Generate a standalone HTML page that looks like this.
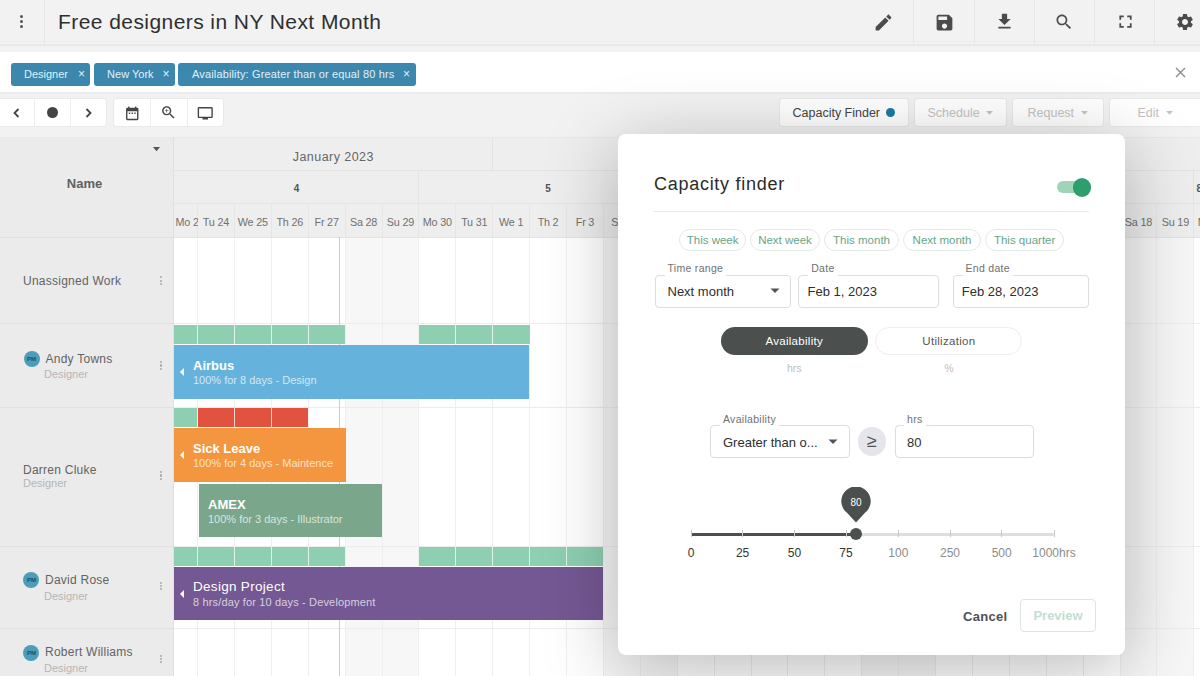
<!DOCTYPE html>
<html><head><meta charset="utf-8">
<style>
*{box-sizing:border-box;margin:0;padding:0}
html,body{width:1200px;height:676px;overflow:hidden;background:#f1f1f1;font-family:"Liberation Sans",sans-serif;position:relative}
.a{position:absolute;white-space:nowrap}
.ico{position:absolute;fill:#4b4b4b}
.vd{position:absolute;top:0;width:1px;height:45px;background:#e6e6e6}
.chip{position:absolute;top:62.6px;height:23.6px;background:#3b87ae;border-radius:3px;color:#e3f0f6;font-size:11px;line-height:23.6px;white-space:nowrap}
.chip span{position:absolute;top:0}
.chip i{position:absolute;top:0;font-style:normal;font-size:12px}
.btn{position:absolute;top:99px;height:27px;background:#fff;border-radius:3px;box-shadow:0 0 0 1px #e9e9e9;font-size:12px;line-height:28px;white-space:nowrap}
.cell{position:absolute}
.t{position:absolute;white-space:nowrap;line-height:1}
</style></head><body>
<div class="a" style="left:0;top:0;width:1200px;height:52px;background:#f2f2f2"></div>
<div class="a" style="left:0;top:40.5px;width:1200px;height:1px;background:#ededed"></div>
<div class="a" style="left:0;top:44px;width:1200px;height:1.6px;background:#e9e9e9"></div>
<div class="vd" style="left:44px"></div>
<div class="a" style="left:19.5px;top:15.100000000000001px;width:3.4px;height:3.4px;border-radius:50%;background:#555"></div>
<div class="a" style="left:19.5px;top:20.1px;width:3.4px;height:3.4px;border-radius:50%;background:#555"></div>
<div class="a" style="left:19.5px;top:25.1px;width:3.4px;height:3.4px;border-radius:50%;background:#555"></div>
<div class="a" style="left:58px;top:9px;font-size:21px;line-height:26px;letter-spacing:0.43px;color:#2f2f2f">Free designers in NY Next Month</div>
<div class="vd" style="left:913px"></div>
<div class="vd" style="left:974px"></div>
<div class="vd" style="left:1034px"></div>
<div class="vd" style="left:1094px"></div>
<div class="vd" style="left:1154px"></div>
<svg class="ico" style="left:872.5px;top:11.5px;fill:#4b4b4b" width="21" height="21" viewBox="0 0 24 24"><path d="M3 17.25V21h3.75L17.81 9.94l-3.75-3.75L3 17.25zM20.71 7.04c.39-.39.39-1.02 0-1.41l-2.34-2.34c-.39-.39-1.02-.39-1.41 0l-1.83 1.83 3.75 3.75 1.83-1.83z"/></svg>
<svg class="ico" style="left:933.5px;top:11.5px;fill:#4b4b4b" width="21" height="21" viewBox="0 0 24 24"><path d="M17 3H5c-1.11 0-2 .9-2 2v14c0 1.1.89 2 2 2h14c1.1 0 2-.9 2-2V7l-4-4zm-5 16c-1.66 0-3-1.34-3-3s1.34-3 3-3 3 1.34 3 3-1.34 3-3 3zm3-10H5V5h10v4z"/></svg>
<svg class="ico" style="left:993.5px;top:11.0px;fill:#4b4b4b" width="21" height="21" viewBox="0 0 24 24"><path d="M19 9h-4V3H9v6H5l7 7 7-7zM5 18v2h14v-2H5z"/></svg>
<svg class="ico" style="left:1053.5px;top:12.0px;fill:#4b4b4b" width="20" height="20" viewBox="0 0 24 24"><path d="M15.5 14h-.79l-.28-.27C15.41 12.59 16 11.11 16 9.5 16 5.91 13.09 3 9.5 3S3 5.91 3 9.5 5.91 16 9.5 16c1.61 0 3.090-.59 4.23-1.57l.27.28v.79l5 4.99L20.49 19l-4.99-5zm-6 0C7.01 14 5 11.99 5 9.5S7.01 5 9.5 5 14 7.01 14 9.5 11.99 14 9.5 14z"/></svg>
<svg class="ico" style="left:1114.5px;top:11.0px;fill:#4b4b4b" width="21" height="21" viewBox="0 0 24 24"><path d="M7 14H5v5h5v-2H7v-3zm-2-4h2V7h3V5H5v5zm12 7h-3v2h5v-5h-2v3zM14 5v2h3v3h2V5h-5z"/></svg>
<svg class="ico" style="left:1174.7px;top:12.0px;fill:#4b4b4b" width="20" height="20" viewBox="0 0 24 24"><path d="M19.14 12.94c.04-.3.06-.61.06-.94 0-.32-.02-.64-.07-.94l2.03-1.58c.18-.14.23-.41.12-.61l-1.92-3.32c-.12-.22-.37-.29-.59-.22l-2.39.96c-.5-.38-1.03-.7-1.62-.94l-.36-2.54c-.04-.24-.24-.41-.48-.41h-3.84c-.24 0-.43.17-.47.41l-.36 2.54c-.59.24-1.13.57-1.62.94l-2.39-.96c-.22-.08-.47 0-.59.22L2.74 8.87c-.12.21-.08.47.12.61l2.03 1.58c-.05.3-.09.63-.09.94s.02.64.07.94l-2.03 1.58c-.18.14-.23.41-.12.61l1.92 3.32c.12.22.37.29.59.22l2.39-.96c.5.38 1.03.7 1.62.94l.36 2.54c.05.24.24.41.48.41h3.84c.24 0 .44-.17.47-.41l.36-2.54c.59-.24 1.13-.56 1.62-.94l2.39.96c.22.08.47 0 .59-.22l1.92-3.32c.12-.22.07-.47-.12-.61l-2.01-1.58zM12 15.6c-1.98 0-3.6-1.62-3.6-3.6s1.62-3.6 3.6-3.6 3.6 1.62 3.6 3.6-1.62 3.6-3.6 3.6z"/></svg>
<div class="a" style="left:0;top:52px;width:1200px;height:39.5px;background:#fff"></div>
<div class="chip" style="left:11px;width:79.3px"><span style="left:13px">Designer</span><i style="left:67px">&#215;</i></div>
<div class="chip" style="left:93.6px;width:81.6px"><span style="left:13.5px">New York</span><i style="left:69px">&#215;</i></div>
<div class="chip" style="left:178px;width:238px"><span style="left:14px;letter-spacing:0.15px">Availability: Greater than or equal 80 hrs</span><i style="left:225px">&#215;</i></div>
<svg class="a" style="left:1175px;top:67px" width="11" height="11" viewBox="0 0 11 11"><path d="M1 1L10 10M10 1L1 10" stroke="#8a8a8a" stroke-width="1.4"/></svg>
<div class="a" style="left:0;top:91.5px;width:1200px;height:45.5px;background:#f2f2f2"></div>
<div class="a" style="left:0;top:92px;width:1200px;height:1.5px;background:#ebebeb"></div>
<div class="btn" style="left:-3px;width:108.5px"></div>
<div class="a" style="left:34px;top:99px;width:1px;height:27px;background:#ededed"></div>
<div class="a" style="left:70px;top:99px;width:1px;height:27px;background:#ededed"></div>
<svg class="a" style="left:12px;top:108px" width="9" height="10" viewBox="0 0 9 10"><path d="M6.5 1L2.5 5L6.5 9" fill="none" stroke="#444" stroke-width="1.8"/></svg>
<div class="a" style="left:47.2px;top:107.4px;width:10.8px;height:10.8px;border-radius:50%;background:#444"></div>
<svg class="a" style="left:84px;top:108px" width="9" height="10" viewBox="0 0 9 10"><path d="M2.5 1L6.5 5L2.5 9" fill="none" stroke="#444" stroke-width="1.8"/></svg>
<div class="btn" style="left:114px;width:109px"></div>
<div class="a" style="left:150px;top:99px;width:1px;height:27px;background:#ededed"></div>
<div class="a" style="left:187px;top:99px;width:1px;height:27px;background:#ededed"></div>
<svg class="ico" style="left:123.75px;top:104.55px;fill:#444" width="16.5" height="16.5" viewBox="0 0 24 24"><path d="M9 11H7v2h2v-2zm4 0h-2v2h2v-2zm4 0h-2v2h2v-2zm2-7h-1V2h-2v2H8V2H6v2H5c-1.11 0-1.99.9-1.99 2L3 20c0 1.1.89 2 2 2h14c1.1 0 2-.9 2-2V6c0-1.1-.9-2-2-2zm0 16H5V9h14v11z"/></svg>
<svg class="ico" style="left:160.0px;top:104.0px;fill:#444" width="17" height="17" viewBox="0 0 24 24"><path d="M15.5 14h-.79l-.28-.27C15.41 12.59 16 11.11 16 9.5 16 5.91 13.09 3 9.5 3S3 5.91 3 9.5 5.91 16 9.5 16c1.61 0 3.09-.59 4.23-1.57l.27.28v.79l5 4.99L20.49 19l-4.99-5zm-6 0C7.01 14 5 11.99 5 9.5S7.01 5 9.5 5 14 7.01 14 9.5 11.99 14 9.5 14zm2.5-4h-2v2H9v-2H7V9h2V7h1v2h2v1z"/></svg>
<svg class="ico" style="left:197.25px;top:104.75px;fill:#444" width="16.5" height="16.5" viewBox="0 0 24 24"><path d="M21 3H3c-1.1 0-2 .9-2 2v12c0 1.1.9 2 2 2h5v2h8v-2h5c1.1 0 1.99-.9 1.99-2L23 5c0-1.1-.9-2-2-2zm0 14H3V5h18v12z"/></svg>
<div class="btn" style="left:780px;width:128px"><span class="a" style="left:12.5px;color:#454545;font-size:12.5px">Capacity Finder</span><span class="a" style="left:105.5px;top:9px;width:9px;height:9px;border-radius:50%;background:#1b7aa6"></span></div>
<div class="btn" style="left:914.5px;width:91.5px"><span class="a" style="left:13px;color:#c3c3c3;font-size:12.5px">Schedule <svg width="7" height="4" viewBox="0 0 7 4" style="margin-left:3px;position:relative;top:-2px"><path d="M0 0H7L3.5 3.8Z" fill="#c4c4c4"/></svg></span></div>
<div class="btn" style="left:1012.5px;width:90.5px"><span class="a" style="left:15px;color:#c3c3c3;font-size:12.5px">Request <svg width="7" height="4" viewBox="0 0 7 4" style="margin-left:3px;position:relative;top:-2px"><path d="M0 0H7L3.5 3.8Z" fill="#c4c4c4"/></svg></span></div>
<div class="btn" style="left:1109.5px;width:100px"><span class="a" style="left:28px;color:#c3c3c3;font-size:12.5px">Edit <svg width="7" height="4" viewBox="0 0 7 4" style="margin-left:3px;position:relative;top:-2px"><path d="M0 0H7L3.5 3.8Z" fill="#c4c4c4"/></svg></span></div>
<div class="a" style="left:0;top:137px;width:1200px;height:539px;background:#fff"></div>
<div class="a" style="left:345.1px;top:237.5px;width:36.9px;height:438.5px;background:#f7f7f7"></div>
<div class="a" style="left:382.0px;top:237.5px;width:36.9px;height:438.5px;background:#f7f7f7"></div>
<div class="a" style="left:603.4px;top:237.5px;width:36.9px;height:438.5px;background:#f7f7f7"></div>
<div class="a" style="left:640.3px;top:237.5px;width:36.9px;height:438.5px;background:#f7f7f7"></div>
<div class="a" style="left:861.7px;top:237.5px;width:36.9px;height:438.5px;background:#f7f7f7"></div>
<div class="a" style="left:898.6px;top:237.5px;width:36.9px;height:438.5px;background:#f7f7f7"></div>
<div class="a" style="left:1120.0px;top:237.5px;width:36.9px;height:438.5px;background:#f7f7f7"></div>
<div class="a" style="left:1156.9px;top:237.5px;width:36.9px;height:438.5px;background:#f7f7f7"></div>
<div class="a" style="left:197.0px;top:137px;width:1px;height:539px;background:#efefef"></div>
<div class="a" style="left:233.9px;top:137px;width:1px;height:539px;background:#efefef"></div>
<div class="a" style="left:270.8px;top:137px;width:1px;height:539px;background:#efefef"></div>
<div class="a" style="left:307.7px;top:137px;width:1px;height:539px;background:#efefef"></div>
<div class="a" style="left:344.6px;top:137px;width:1px;height:539px;background:#efefef"></div>
<div class="a" style="left:381.5px;top:137px;width:1px;height:539px;background:#efefef"></div>
<div class="a" style="left:418.4px;top:137px;width:1px;height:539px;background:#efefef"></div>
<div class="a" style="left:455.3px;top:137px;width:1px;height:539px;background:#efefef"></div>
<div class="a" style="left:492.2px;top:137px;width:1px;height:539px;background:#efefef"></div>
<div class="a" style="left:529.1px;top:137px;width:1px;height:539px;background:#efefef"></div>
<div class="a" style="left:566.0px;top:137px;width:1px;height:539px;background:#efefef"></div>
<div class="a" style="left:602.9px;top:137px;width:1px;height:539px;background:#efefef"></div>
<div class="a" style="left:639.8px;top:137px;width:1px;height:539px;background:#efefef"></div>
<div class="a" style="left:676.7px;top:137px;width:1px;height:539px;background:#efefef"></div>
<div class="a" style="left:713.6px;top:137px;width:1px;height:539px;background:#efefef"></div>
<div class="a" style="left:750.5px;top:137px;width:1px;height:539px;background:#efefef"></div>
<div class="a" style="left:787.4px;top:137px;width:1px;height:539px;background:#efefef"></div>
<div class="a" style="left:824.3px;top:137px;width:1px;height:539px;background:#efefef"></div>
<div class="a" style="left:861.2px;top:137px;width:1px;height:539px;background:#efefef"></div>
<div class="a" style="left:898.1px;top:137px;width:1px;height:539px;background:#efefef"></div>
<div class="a" style="left:935.0px;top:137px;width:1px;height:539px;background:#efefef"></div>
<div class="a" style="left:971.9px;top:137px;width:1px;height:539px;background:#efefef"></div>
<div class="a" style="left:1008.8px;top:137px;width:1px;height:539px;background:#efefef"></div>
<div class="a" style="left:1045.7px;top:137px;width:1px;height:539px;background:#efefef"></div>
<div class="a" style="left:1082.6px;top:137px;width:1px;height:539px;background:#efefef"></div>
<div class="a" style="left:1119.5px;top:137px;width:1px;height:539px;background:#efefef"></div>
<div class="a" style="left:1156.4px;top:137px;width:1px;height:539px;background:#efefef"></div>
<div class="a" style="left:1193.3px;top:137px;width:1px;height:539px;background:#efefef"></div>
<div class="a" style="left:1230.2px;top:137px;width:1px;height:539px;background:#efefef"></div>
<div class="a" style="left:0;top:322.5px;width:1200px;height:1px;background:#ececec"></div>
<div class="a" style="left:0;top:407px;width:1200px;height:1px;background:#ececec"></div>
<div class="a" style="left:0;top:545.5px;width:1200px;height:1px;background:#ececec"></div>
<div class="a" style="left:0;top:628px;width:1200px;height:1px;background:#ececec"></div>
<div class="a" style="left:174px;top:137px;width:1026px;height:100px;background:#eeeeee"></div>
<div class="a" style="left:0;top:136.5px;width:1200px;height:1px;background:#e7e7e7"></div>
<div class="a" style="left:174px;top:169.5px;width:1026px;height:1px;background:#e3e3e3"></div>
<div class="a" style="left:174px;top:202.5px;width:1026px;height:1px;background:#e3e3e3"></div>
<div class="a" style="left:0px;top:236.5px;width:1200px;height:1px;background:#e3e3e3"></div>
<div class="a" style="left:492.2px;top:137px;width:1px;height:33px;background:#e3e3e3"></div>
<div class="a" style="left:418.4px;top:170px;width:1px;height:33px;background:#e3e3e3"></div>
<div class="a" style="left:676.7px;top:170px;width:1px;height:33px;background:#e3e3e3"></div>
<div class="a" style="left:935.0px;top:170px;width:1px;height:33px;background:#e3e3e3"></div>
<div class="a" style="left:1193.3px;top:170px;width:1px;height:33px;background:#e3e3e3"></div>
<div class="a" style="left:197.0px;top:203px;width:1px;height:34px;background:#e6e6e6"></div>
<div class="a" style="left:233.9px;top:203px;width:1px;height:34px;background:#e6e6e6"></div>
<div class="a" style="left:270.8px;top:203px;width:1px;height:34px;background:#e6e6e6"></div>
<div class="a" style="left:307.7px;top:203px;width:1px;height:34px;background:#e6e6e6"></div>
<div class="a" style="left:344.6px;top:203px;width:1px;height:34px;background:#e6e6e6"></div>
<div class="a" style="left:381.5px;top:203px;width:1px;height:34px;background:#e6e6e6"></div>
<div class="a" style="left:418.4px;top:203px;width:1px;height:34px;background:#e6e6e6"></div>
<div class="a" style="left:455.3px;top:203px;width:1px;height:34px;background:#e6e6e6"></div>
<div class="a" style="left:492.2px;top:203px;width:1px;height:34px;background:#e6e6e6"></div>
<div class="a" style="left:529.1px;top:203px;width:1px;height:34px;background:#e6e6e6"></div>
<div class="a" style="left:566.0px;top:203px;width:1px;height:34px;background:#e6e6e6"></div>
<div class="a" style="left:602.9px;top:203px;width:1px;height:34px;background:#e6e6e6"></div>
<div class="a" style="left:639.8px;top:203px;width:1px;height:34px;background:#e6e6e6"></div>
<div class="a" style="left:676.7px;top:203px;width:1px;height:34px;background:#e6e6e6"></div>
<div class="a" style="left:713.6px;top:203px;width:1px;height:34px;background:#e6e6e6"></div>
<div class="a" style="left:750.5px;top:203px;width:1px;height:34px;background:#e6e6e6"></div>
<div class="a" style="left:787.4px;top:203px;width:1px;height:34px;background:#e6e6e6"></div>
<div class="a" style="left:824.3px;top:203px;width:1px;height:34px;background:#e6e6e6"></div>
<div class="a" style="left:861.2px;top:203px;width:1px;height:34px;background:#e6e6e6"></div>
<div class="a" style="left:898.1px;top:203px;width:1px;height:34px;background:#e6e6e6"></div>
<div class="a" style="left:935.0px;top:203px;width:1px;height:34px;background:#e6e6e6"></div>
<div class="a" style="left:971.9px;top:203px;width:1px;height:34px;background:#e6e6e6"></div>
<div class="a" style="left:1008.8px;top:203px;width:1px;height:34px;background:#e6e6e6"></div>
<div class="a" style="left:1045.7px;top:203px;width:1px;height:34px;background:#e6e6e6"></div>
<div class="a" style="left:1082.6px;top:203px;width:1px;height:34px;background:#e6e6e6"></div>
<div class="a" style="left:1119.5px;top:203px;width:1px;height:34px;background:#e6e6e6"></div>
<div class="a" style="left:1156.4px;top:203px;width:1px;height:34px;background:#e6e6e6"></div>
<div class="a" style="left:1193.3px;top:203px;width:1px;height:34px;background:#e6e6e6"></div>
<div class="a" style="left:1230.2px;top:203px;width:1px;height:34px;background:#e6e6e6"></div>
<div class="t" style="left:174px;width:318.7px;top:150.5px;text-align:center;font-size:12.5px;letter-spacing:0.45px;color:#666">January 2023</div>
<div class="t" style="left:174px;width:245px;top:183.5px;text-align:center;font-size:10px;font-weight:bold;color:#555">4</div>
<div class="t" style="left:418.9px;width:258.3px;top:183.5px;text-align:center;font-size:10px;font-weight:bold;color:#555">5</div>
<div class="t" style="left:1194.3px;width:10px;top:183.5px;text-align:center;font-size:10px;font-weight:bold;color:#555">8</div>
<div class="t" style="left:175.5px;width:22px;overflow:hidden;top:216.5px;font-size:10.8px;letter-spacing:-0.2px;color:#707070">Mo 23</div>
<div class="t" style="left:197.5px;width:36.9px;top:216.5px;text-align:center;font-size:10.8px;letter-spacing:-0.2px;color:#707070">Tu 24</div>
<div class="t" style="left:234.4px;width:36.9px;top:216.5px;text-align:center;font-size:10.8px;letter-spacing:-0.2px;color:#707070">We 25</div>
<div class="t" style="left:271.3px;width:36.9px;top:216.5px;text-align:center;font-size:10.8px;letter-spacing:-0.2px;color:#707070">Th 26</div>
<div class="t" style="left:308.2px;width:36.9px;top:216.5px;text-align:center;font-size:10.8px;letter-spacing:-0.2px;color:#707070">Fr 27</div>
<div class="t" style="left:345.1px;width:36.9px;top:216.5px;text-align:center;font-size:10.8px;letter-spacing:-0.2px;color:#707070">Sa 28</div>
<div class="t" style="left:382.0px;width:36.9px;top:216.5px;text-align:center;font-size:10.8px;letter-spacing:-0.2px;color:#707070">Su 29</div>
<div class="t" style="left:418.9px;width:36.9px;top:216.5px;text-align:center;font-size:10.8px;letter-spacing:-0.2px;color:#707070">Mo 30</div>
<div class="t" style="left:455.8px;width:36.9px;top:216.5px;text-align:center;font-size:10.8px;letter-spacing:-0.2px;color:#707070">Tu 31</div>
<div class="t" style="left:492.7px;width:36.9px;top:216.5px;text-align:center;font-size:10.8px;letter-spacing:-0.2px;color:#707070">We 1</div>
<div class="t" style="left:529.6px;width:36.9px;top:216.5px;text-align:center;font-size:10.8px;letter-spacing:-0.2px;color:#707070">Th 2</div>
<div class="t" style="left:566.5px;width:36.9px;top:216.5px;text-align:center;font-size:10.8px;letter-spacing:-0.2px;color:#707070">Fr 3</div>
<div class="t" style="left:603.4px;width:36.9px;top:216.5px;text-align:center;font-size:10.8px;letter-spacing:-0.2px;color:#707070">Sa 4</div>
<div class="t" style="left:640.3px;width:36.9px;top:216.5px;text-align:center;font-size:10.8px;letter-spacing:-0.2px;color:#707070">Su 5</div>
<div class="t" style="left:677.2px;width:36.9px;top:216.5px;text-align:center;font-size:10.8px;letter-spacing:-0.2px;color:#707070">Mo 6</div>
<div class="t" style="left:714.1px;width:36.9px;top:216.5px;text-align:center;font-size:10.8px;letter-spacing:-0.2px;color:#707070">Tu 7</div>
<div class="t" style="left:751.0px;width:36.9px;top:216.5px;text-align:center;font-size:10.8px;letter-spacing:-0.2px;color:#707070">We 8</div>
<div class="t" style="left:787.9px;width:36.9px;top:216.5px;text-align:center;font-size:10.8px;letter-spacing:-0.2px;color:#707070">Th 9</div>
<div class="t" style="left:824.8px;width:36.9px;top:216.5px;text-align:center;font-size:10.8px;letter-spacing:-0.2px;color:#707070">Fr 10</div>
<div class="t" style="left:861.7px;width:36.9px;top:216.5px;text-align:center;font-size:10.8px;letter-spacing:-0.2px;color:#707070">Sa 11</div>
<div class="t" style="left:898.6px;width:36.9px;top:216.5px;text-align:center;font-size:10.8px;letter-spacing:-0.2px;color:#707070">Su 12</div>
<div class="t" style="left:935.5px;width:36.9px;top:216.5px;text-align:center;font-size:10.8px;letter-spacing:-0.2px;color:#707070">Mo 13</div>
<div class="t" style="left:972.4px;width:36.9px;top:216.5px;text-align:center;font-size:10.8px;letter-spacing:-0.2px;color:#707070">Tu 14</div>
<div class="t" style="left:1009.3px;width:36.9px;top:216.5px;text-align:center;font-size:10.8px;letter-spacing:-0.2px;color:#707070">We 15</div>
<div class="t" style="left:1046.2px;width:36.9px;top:216.5px;text-align:center;font-size:10.8px;letter-spacing:-0.2px;color:#707070">Th 16</div>
<div class="t" style="left:1083.1px;width:36.9px;top:216.5px;text-align:center;font-size:10.8px;letter-spacing:-0.2px;color:#707070">Fr 17</div>
<div class="t" style="left:1120.0px;width:36.9px;top:216.5px;text-align:center;font-size:10.8px;letter-spacing:-0.2px;color:#707070">Sa 18</div>
<div class="t" style="left:1156.9px;width:36.9px;top:216.5px;text-align:center;font-size:10.8px;letter-spacing:-0.2px;color:#707070">Su 19</div>
<div class="t" style="left:1193.8px;width:36.9px;top:216.5px;text-align:center;font-size:10.8px;letter-spacing:-0.2px;color:#707070">Mo 20</div>
<div class="a" style="left:339px;top:237px;width:1px;height:439px;background:#a9d9e1"></div>
<div class="a" style="left:174.0px;top:325px;width:171.1px;height:19px;background:#8dcfb0"></div>
<div class="a" style="left:197.0px;top:325px;width:1.2px;height:19px;background:rgba(255,255,255,0.75)"></div>
<div class="a" style="left:233.9px;top:325px;width:1.2px;height:19px;background:rgba(255,255,255,0.75)"></div>
<div class="a" style="left:270.8px;top:325px;width:1.2px;height:19px;background:rgba(255,255,255,0.75)"></div>
<div class="a" style="left:307.7px;top:325px;width:1.2px;height:19px;background:rgba(255,255,255,0.75)"></div>
<div class="a" style="left:418.9px;top:325px;width:110.7px;height:19px;background:#8dcfb0"></div>
<div class="a" style="left:455.3px;top:325px;width:1.2px;height:19px;background:rgba(255,255,255,0.75)"></div>
<div class="a" style="left:492.2px;top:325px;width:1.2px;height:19px;background:rgba(255,255,255,0.75)"></div>
<div class="a" style="left:174.0px;top:408px;width:23.5px;height:19px;background:#8dcfb0"></div>
<div class="a" style="left:197.5px;top:408px;width:110.7px;height:19px;background:#e1533f"></div>
<div class="a" style="left:233.9px;top:408px;width:1.2px;height:19px;background:rgba(255,255,255,0.75)"></div>
<div class="a" style="left:270.8px;top:408px;width:1.2px;height:19px;background:rgba(255,255,255,0.75)"></div>
<div class="a" style="left:197.0px;top:408px;width:1.2px;height:19px;background:rgba(255,255,255,0.75)"></div>
<div class="a" style="left:174.0px;top:546.5px;width:171.1px;height:19px;background:#8dcfb0"></div>
<div class="a" style="left:197.0px;top:546.5px;width:1.2px;height:19px;background:rgba(255,255,255,0.75)"></div>
<div class="a" style="left:233.9px;top:546.5px;width:1.2px;height:19px;background:rgba(255,255,255,0.75)"></div>
<div class="a" style="left:270.8px;top:546.5px;width:1.2px;height:19px;background:rgba(255,255,255,0.75)"></div>
<div class="a" style="left:307.7px;top:546.5px;width:1.2px;height:19px;background:rgba(255,255,255,0.75)"></div>
<div class="a" style="left:418.9px;top:546.5px;width:184.5px;height:19px;background:#8dcfb0"></div>
<div class="a" style="left:455.3px;top:546.5px;width:1.2px;height:19px;background:rgba(255,255,255,0.75)"></div>
<div class="a" style="left:492.2px;top:546.5px;width:1.2px;height:19px;background:rgba(255,255,255,0.75)"></div>
<div class="a" style="left:529.1px;top:546.5px;width:1.2px;height:19px;background:rgba(255,255,255,0.75)"></div>
<div class="a" style="left:566.0px;top:546.5px;width:1.2px;height:19px;background:rgba(255,255,255,0.75)"></div>
<div class="a" style="left:174px;top:345px;width:355.0px;height:53.5px;background:#65b3dd"></div>
<svg class="a" style="left:179px;top:366.75px" width="6" height="10" viewBox="0 0 6 10"><path d="M5 1L1 5L5 9Z" fill="#fff"/></svg>
<div class="t" style="left:193px;top:359px;font-size:13px;font-weight:bold;color:#fff">Airbus</div>
<div class="t" style="left:193px;top:374.5px;font-size:11px;color:rgba(255,255,255,0.72)">100% for 8 days - Design</div>
<div class="a" style="left:174px;top:428px;width:172.10000000000002px;height:54px;background:#f49640"></div>
<svg class="a" style="left:179px;top:450.0px" width="6" height="10" viewBox="0 0 6 10"><path d="M5 1L1 5L5 9Z" fill="#fff"/></svg>
<div class="t" style="left:193px;top:442px;font-size:13px;font-weight:bold;color:#fff">Sick Leave</div>
<div class="t" style="left:193px;top:457.5px;font-size:11px;color:rgba(255,255,255,0.72)">100% for 4 days - Maintence</div>
<div class="a" style="left:198.5px;top:484px;width:183.5px;height:53px;background:#7aa78b"></div>
<div class="t" style="left:208px;top:498px;font-size:13px;font-weight:bold;color:#fff">AMEX</div>
<div class="t" style="left:208px;top:513.5px;font-size:11px;color:rgba(255,255,255,0.72)">100% for 3 days - Illustrator</div>
<div class="a" style="left:174px;top:567px;width:428.9px;height:53px;background:#745893"></div>
<svg class="a" style="left:179px;top:588.5px" width="6" height="10" viewBox="0 0 6 10"><path d="M5 1L1 5L5 9Z" fill="#fff"/></svg>
<div class="t" style="left:193px;top:579.5px;font-size:13.5px;letter-spacing:0.3px;color:#fff">Design Project</div>
<div class="t" style="left:193px;top:596.5px;font-size:11px;letter-spacing:0.15px;color:rgba(255,255,255,0.72)">8 hrs/day for 10 days - Development</div>
<div class="a" style="left:0;top:137px;width:173.5px;height:539px;background:#ebebeb;border-right:1px solid #e0e0e0"></div>
<div class="a" style="left:0;top:236.5px;width:173px;height:1px;background:#e0e0e0"></div>
<div class="a" style="left:0;top:322.5px;width:173px;height:1px;background:#e0e0e0"></div>
<div class="a" style="left:0;top:407px;width:173px;height:1px;background:#e0e0e0"></div>
<div class="a" style="left:0;top:545.5px;width:173px;height:1px;background:#e0e0e0"></div>
<div class="a" style="left:0;top:628px;width:173px;height:1px;background:#e0e0e0"></div>
<div class="t" style="left:0;width:169px;top:177px;text-align:center;font-size:13px;font-weight:bold;color:#606060">Name</div>
<svg class="a" style="left:152.5px;top:147.3px" width="7" height="4.5" viewBox="0 0 7 4.5"><path d="M0 0H7L3.5 4.2Z" fill="#555"/></svg>
<div class="t" style="left:23px;top:275px;font-size:12px;letter-spacing:0.25px;color:#636363">Unassigned Work</div>
<div class="a" style="left:160.2px;top:276.3px;width:2.2px;height:2.2px;border-radius:50%;background:#a8a8a8"></div>
<div class="a" style="left:160.2px;top:279.7px;width:2.2px;height:2.2px;border-radius:50%;background:#a8a8a8"></div>
<div class="a" style="left:160.2px;top:283.1px;width:2.2px;height:2.2px;border-radius:50%;background:#a8a8a8"></div>
<div class="a" style="left:23.5px;top:351.4px;width:16px;height:16px;border-radius:50%;background:#4d9db8;color:#1d4f63;font-size:6px;font-weight:bold;line-height:16px;text-align:center">PM</div>
<div class="t" style="left:45.5px;top:353px;font-size:12px;letter-spacing:0.25px;color:#636363">Andy Towns</div>
<div class="t" style="left:44px;top:369px;font-size:11px;color:#b6b6b6">Designer</div>
<div class="a" style="left:160.2px;top:361.0px;width:2.2px;height:2.2px;border-radius:50%;background:#a8a8a8"></div>
<div class="a" style="left:160.2px;top:364.4px;width:2.2px;height:2.2px;border-radius:50%;background:#a8a8a8"></div>
<div class="a" style="left:160.2px;top:367.8px;width:2.2px;height:2.2px;border-radius:50%;background:#a8a8a8"></div>
<div class="t" style="left:23px;top:464px;font-size:12px;letter-spacing:0.25px;color:#636363">Darren Cluke</div>
<div class="t" style="left:23px;top:477.5px;font-size:11px;color:#b6b6b6">Designer</div>
<div class="a" style="left:160.2px;top:471.0px;width:2.2px;height:2.2px;border-radius:50%;background:#a8a8a8"></div>
<div class="a" style="left:160.2px;top:474.4px;width:2.2px;height:2.2px;border-radius:50%;background:#a8a8a8"></div>
<div class="a" style="left:160.2px;top:477.8px;width:2.2px;height:2.2px;border-radius:50%;background:#a8a8a8"></div>
<div class="a" style="left:23.4px;top:572px;width:16px;height:16px;border-radius:50%;background:#4d9db8;color:#1d4f63;font-size:6px;font-weight:bold;line-height:16px;text-align:center">PM</div>
<div class="t" style="left:45px;top:574px;font-size:12px;letter-spacing:0.25px;color:#636363">David Rose</div>
<div class="t" style="left:44px;top:590.5px;font-size:11px;color:#b6b6b6">Designer</div>
<div class="a" style="left:160.2px;top:581.5px;width:2.2px;height:2.2px;border-radius:50%;background:#a8a8a8"></div>
<div class="a" style="left:160.2px;top:584.9px;width:2.2px;height:2.2px;border-radius:50%;background:#a8a8a8"></div>
<div class="a" style="left:160.2px;top:588.3px;width:2.2px;height:2.2px;border-radius:50%;background:#a8a8a8"></div>
<div class="a" style="left:23.4px;top:645px;width:16px;height:16px;border-radius:50%;background:#4d9db8;color:#1d4f63;font-size:6px;font-weight:bold;line-height:16px;text-align:center">PM</div>
<div class="t" style="left:45px;top:646px;font-size:12px;letter-spacing:0.25px;color:#636363">Robert Williams</div>
<div class="t" style="left:44px;top:662.5px;font-size:11px;color:#b6b6b6">Designer</div>
<div class="a" style="left:160.2px;top:654.5px;width:2.2px;height:2.2px;border-radius:50%;background:#a8a8a8"></div>
<div class="a" style="left:160.2px;top:657.9px;width:2.2px;height:2.2px;border-radius:50%;background:#a8a8a8"></div>
<div class="a" style="left:160.2px;top:661.3px;width:2.2px;height:2.2px;border-radius:50%;background:#a8a8a8"></div>
<div class="a" style="left:618px;top:134px;width:507px;height:521px;background:#fff;border-radius:8px;box-shadow:0 14px 75px rgba(0,0,0,0.28)"></div>
<div class="t" style="left:654px;top:174.5px;font-size:18px;color:#2b2b2b;letter-spacing:0.72px">Capacity finder</div>
<div class="a" style="left:1057px;top:181px;width:29px;height:12px;border-radius:6px;background:#9fd4b9"></div>
<div class="a" style="left:1073px;top:178.2px;width:18.4px;height:18.4px;border-radius:50%;background:#2f9e6e"></div>
<div class="a" style="left:654px;top:211px;width:435px;height:1px;background:#e8e8e8"></div>
<div class="a" style="left:679px;top:229.4px;width:67.3px;height:21.5px;border:1px solid #e0ebe5;border-radius:11px;color:#67a686;font-size:11.5px;line-height:21px;text-align:center">This week</div>
<div class="a" style="left:750.2px;top:229.4px;width:69.6px;height:21.5px;border:1px solid #e0ebe5;border-radius:11px;color:#67a686;font-size:11.5px;line-height:21px;text-align:center">Next week</div>
<div class="a" style="left:824.1px;top:229.4px;width:74.9px;height:21.5px;border:1px solid #e0ebe5;border-radius:11px;color:#67a686;font-size:11.5px;line-height:21px;text-align:center">This month</div>
<div class="a" style="left:903.4px;top:229.4px;width:77.2px;height:21.5px;border:1px solid #e0ebe5;border-radius:11px;color:#67a686;font-size:11.5px;line-height:21px;text-align:center">Next month</div>
<div class="a" style="left:984.9px;top:229.4px;width:79.5px;height:21.5px;border:1px solid #e0ebe5;border-radius:11px;color:#67a686;font-size:11.5px;line-height:21px;text-align:center">This quarter</div>
<div class="a" style="left:654.5px;top:274.5px;width:136.3px;height:33.8px;border:1px solid #dddddd;border-radius:4px;background:#fff"></div>
<div class="t" style="left:664.5px;top:261.0px;height:16px;padding:0 3px;background:#fff;font-size:10.5px;line-height:14px;letter-spacing:0.3px;color:#707070">Time range</div>
<div class="t" style="left:667.5px;top:285.4px;font-size:13px;line-height:14px;color:#2e2e2e">Next month</div>
<svg class="a" style="left:770px;top:288.4px" width="10" height="6" viewBox="0 0 10 6"><path d="M0.5 0.5H9.5L5 5Z" fill="#555"/></svg>
<div class="a" style="left:798px;top:274.5px;width:140.8px;height:33.8px;border:1px solid #dddddd;border-radius:4px;background:#fff"></div>
<div class="t" style="left:808.2px;top:261.0px;height:16px;padding:0 3px;background:#fff;font-size:10.5px;line-height:14px;letter-spacing:0.3px;color:#707070">Date</div>
<div class="t" style="left:807.5px;top:285.4px;font-size:13px;line-height:14px;color:#2e2e2e">Feb 1, 2023</div>
<div class="a" style="left:952.5px;top:274.5px;width:136.2px;height:33.8px;border:1px solid #dddddd;border-radius:4px;background:#fff"></div>
<div class="t" style="left:962.5px;top:261.0px;height:16px;padding:0 3px;background:#fff;font-size:10.5px;line-height:14px;letter-spacing:0.3px;color:#707070">End date</div>
<div class="t" style="left:961.8px;top:285.4px;font-size:13px;line-height:14px;color:#2e2e2e">Feb 28, 2023</div>
<div class="a" style="left:720.7px;top:327.2px;width:147.2px;height:28.3px;border-radius:14.2px;background:#4b504f;color:#fff;font-size:11.5px;letter-spacing:0.3px;line-height:28.3px;text-align:center">Availability</div>
<div class="a" style="left:875.3px;top:327.2px;width:147.2px;height:28.3px;border-radius:14.2px;background:#fff;border:1px solid #eeeeee;color:#555;font-size:11.5px;letter-spacing:0.3px;line-height:26.3px;text-align:center">Utilization</div>
<div class="t" style="left:720.7px;width:147.2px;top:362.5px;text-align:center;font-size:10.5px;color:#c0c0c0">hrs</div>
<div class="t" style="left:875.3px;width:147.2px;top:362.5px;text-align:center;font-size:10.5px;color:#c0c0c0">%</div>
<div class="a" style="left:710px;top:425.1px;width:139.5px;height:33.1px;border:1px solid #dddddd;border-radius:4px;background:#fff"></div>
<div class="t" style="left:720px;top:411.6px;height:16px;padding:0 3px;background:#fff;font-size:10.5px;line-height:14px;letter-spacing:0.3px;color:#707070">Availability</div>
<div class="t" style="left:723px;top:435.65px;font-size:13px;line-height:14px;color:#2e2e2e">Greater than o...</div>
<svg class="a" style="left:828px;top:438.65px" width="10" height="6" viewBox="0 0 10 6"><path d="M0.5 0.5H9.5L5 5Z" fill="#555"/></svg>
<div class="a" style="left:894.7px;top:425.1px;width:139.7px;height:33.1px;border:1px solid #dddddd;border-radius:4px;background:#fff"></div>
<div class="t" style="left:904px;top:411.6px;height:16px;padding:0 3px;background:#fff;font-size:10.5px;line-height:14px;letter-spacing:0.3px;color:#707070">hrs</div>
<div class="t" style="left:907px;top:435.65px;font-size:13px;line-height:14px;color:#2e2e2e">80</div>
<div class="a" style="left:857.6px;top:427.1px;width:28.8px;height:28.8px;border-radius:50%;background:#e5e6eb;color:#555;font-size:18px;line-height:28.8px;text-align:center">&#8805;</div>
<div class="a" style="left:691px;top:532.5px;width:363px;height:3px;background:#dedede;border-radius:1.5px"></div>
<div class="a" style="left:691px;top:532.5px;width:165px;height:3px;background:#4b504f;border-radius:1.5px"></div>
<div class="a" style="left:690.5px;top:530px;width:1px;height:7px;background:#c8c8c8"></div>
<div class="a" style="left:742.1px;top:530px;width:1px;height:7px;background:#c8c8c8"></div>
<div class="a" style="left:793.9px;top:530px;width:1px;height:7px;background:#c8c8c8"></div>
<div class="a" style="left:845.5px;top:530px;width:1px;height:7px;background:#c8c8c8"></div>
<div class="a" style="left:897.8px;top:530px;width:1px;height:7px;background:#c8c8c8"></div>
<div class="a" style="left:949.5px;top:530px;width:1px;height:7px;background:#c8c8c8"></div>
<div class="a" style="left:1001.2px;top:530px;width:1px;height:7px;background:#c8c8c8"></div>
<div class="a" style="left:1053.5px;top:530px;width:1px;height:7px;background:#c8c8c8"></div>
<div class="a" style="left:850px;top:527.6px;width:12px;height:12px;border-radius:50%;background:#4b504f"></div>
<svg class="a" style="left:841px;top:487px" width="30" height="38" viewBox="0 0 30 38"><path d="M15 35.5 L6 25.8 A14.7 14.7 0 1 1 24 25.8 Z" fill="#4b504f"/></svg>
<div class="t" style="left:841px;width:30px;top:497.5px;text-align:center;font-size:10px;color:#fff">80</div>
<div class="t" style="left:661px;width:60px;top:546.5px;text-align:center;font-size:12px;color:#333">0</div>
<div class="t" style="left:712.6px;width:60px;top:546.5px;text-align:center;font-size:12px;color:#333">25</div>
<div class="t" style="left:764.4px;width:60px;top:546.5px;text-align:center;font-size:12px;color:#333">50</div>
<div class="t" style="left:816px;width:60px;top:546.5px;text-align:center;font-size:12px;color:#333">75</div>
<div class="t" style="left:868.3px;width:60px;top:546.5px;text-align:center;font-size:12px;color:#8c8c8c">100</div>
<div class="t" style="left:920px;width:60px;top:546.5px;text-align:center;font-size:12px;color:#8c8c8c">250</div>
<div class="t" style="left:971.7px;width:60px;top:546.5px;text-align:center;font-size:12px;color:#8c8c8c">500</div>
<div class="t" style="left:1024px;width:60px;top:546.5px;text-align:center;font-size:12px;color:#8c8c8c">1000hrs</div>
<div class="t" style="left:963px;top:609.5px;font-size:13px;font-weight:bold;color:#505050;letter-spacing:0.3px">Cancel</div>
<div class="a" style="left:1020.4px;top:599.3px;width:75.2px;height:32.9px;border:1px solid #d8e8df;border-radius:4px;color:#c0e0d1;font-size:13px;font-weight:bold;line-height:31px;text-align:center">Preview</div>
</body></html>
